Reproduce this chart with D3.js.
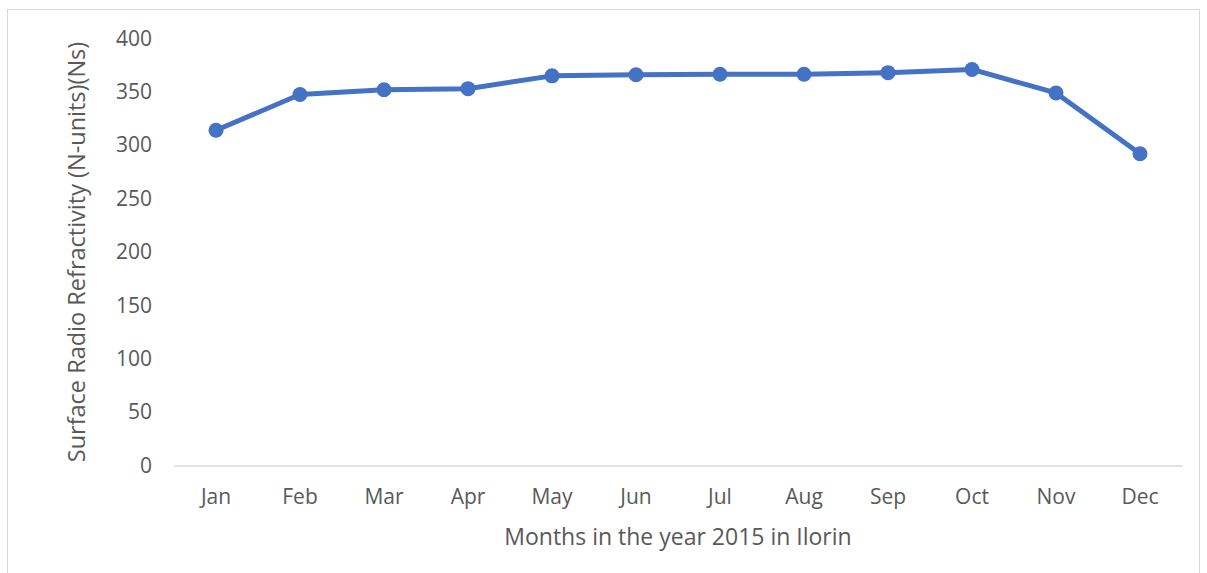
<!DOCTYPE html>
<html>
<head>
<meta charset="utf-8">
<script src="https://cdn.jsdelivr.net/npm/d3@7"></script>
<style>
  body { margin: 0; background: #fff; }
  svg { display: block; }
  svg text { font-family: "Open Sans", sans-serif; }
</style>
</head>
<body>
<svg id="chart" width="1207" height="573"></svg>
<script>
const months = ["Jan", "Feb", "Mar", "Apr", "May", "Jun", "Jul", "Aug", "Sep", "Oct", "Nov", "Dec"];
const refractivity = [314, 347.5, 352, 353, 365, 366, 366.5, 366.5, 368, 371, 349, 292];
const yTicks = [0, 50, 100, 150, 200, 250, 300, 350, 400];

const svg = d3.select("#chart");
const W = 1207, H = 573;
const m = { left: 174, right: 25, top: 38.5, bottom: 107.5 };
const C = { line: "#4472C4", text: "#595959", axis: "#d9d9d9", frame: "#d9d9d9" };

svg.append("rect")
  .attr("x", 7.5).attr("y", 9.5)
  .attr("width", 1192).attr("height", 580)
  .attr("fill", "#fff").attr("stroke", C.frame).attr("stroke-width", 1);

const x = d3.scaleBand().domain(months).range([m.left, W - m.right]);
const y = d3.scaleLinear().domain([0, 400]).range([H - m.bottom, m.top]);

// y tick labels only
const gy = svg.append("g")
  .attr("transform", "translate(" + (m.left - 22) + ",0)")
  .call(d3.axisLeft(y).tickValues(yTicks).tickSize(0).tickPadding(0));
gy.select(".domain").remove();
gy.selectAll("text").attr("fill", C.text).attr("font-size", "21px")
  .attr("font-family", "'Open Sans', sans-serif");

// x axis
const gx = svg.append("g")
  .attr("transform", "translate(0," + y(0) + ")")
  .call(d3.axisBottom(x).tickSize(0).tickPadding(24));
gx.select(".domain").attr("stroke", C.axis).attr("stroke-width", 1.5);
gx.selectAll("text").attr("fill", C.text).attr("font-size", "21px")
  .attr("font-family", "'Open Sans', sans-serif");

const line = d3.line()
  .x((d, i) => x(months[i]) + x.bandwidth() / 2)
  .y(d => y(d));

svg.append("path")
  .datum(refractivity)
  .attr("fill", "none")
  .attr("stroke", C.line)
  .attr("stroke-width", 5)
  .attr("stroke-linejoin", "round")
  .attr("d", line);

svg.selectAll(".pt").data(refractivity).enter().append("circle")
  .attr("class", "pt")
  .attr("cx", (d, i) => x(months[i]) + x.bandwidth() / 2)
  .attr("cy", d => y(d))
  .attr("r", 7.5)
  .attr("fill", C.line);

svg.append("text")
  .attr("x", (m.left + W - m.right) / 2)
  .attr("y", 545)
  .attr("text-anchor", "middle")
  .attr("fill", C.text)
  .attr("font-size", "23px")
  .text("Months in the year 2015 in Ilorin");

svg.append("text")
  .attr("transform", "translate(85," + ((y(0) + y(400)) / 2) + ") rotate(-90)")
  .attr("text-anchor", "middle")
  .attr("fill", C.text)
  .attr("font-size", "23.5px")
  .text("Surface Radio Refractivity (N-units)(Ns)");
</script>
</body>
</html>
